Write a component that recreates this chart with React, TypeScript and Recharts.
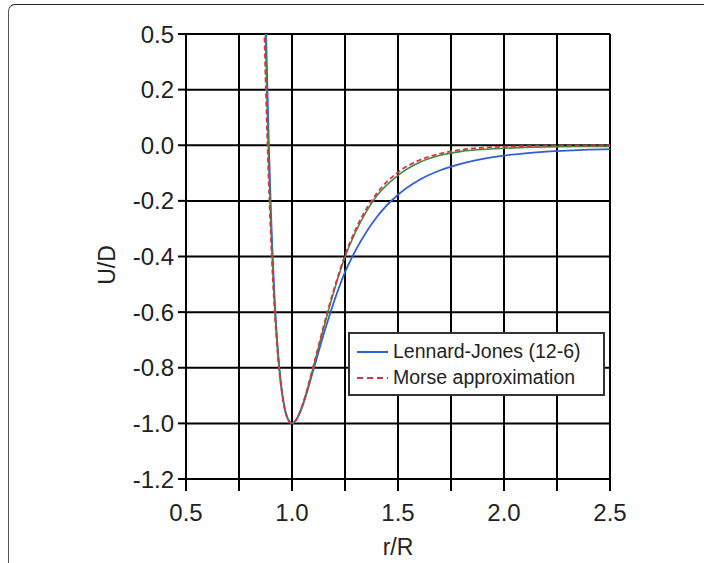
import { LineChart, Line, XAxis, YAxis, CartesianGrid } from "recharts";

const rValues = [
  0.86, 0.87, 0.88, 0.89, 0.9, 0.92, 0.94, 0.96, 0.98, 1.0, 1.02, 1.05, 1.1, 1.15, 1.2,
  1.25, 1.3, 1.4, 1.5, 1.6, 1.7, 1.8, 1.9, 2.0, 2.1, 2.2, 2.3, 2.4, 2.5,
];
const ljValues = [
  1.17, 0.706, 0.33, 0.024, -0.223, -0.579, -0.798, -0.923, -0.983, -1.0, -0.987, -0.936,
  -0.81, -0.678, -0.558, -0.456, -0.378, -0.258, -0.178, -0.125, -0.09, -0.066, -0.049,
  -0.037, -0.029, -0.023, -0.019, -0.016, -0.014,
];
const morseValues = [
  0.733, 0.396, 0.112, -0.126, -0.324, -0.62, -0.812, -0.926, -0.984, -1.0, -0.987, -0.933,
  -0.796, -0.648, -0.512, -0.396, -0.303, -0.173, -0.097, -0.054, -0.03, -0.016, -0.009,
  -0.005, -0.003, -0.002, -0.001, -0.001, 0,
];
const greenValues = [
  0.95, 0.55, 0.22, -0.05, -0.27, -0.6, -0.805, -0.925, -0.984, -1.0, -0.987, -0.934,
  -0.8, -0.655, -0.52, -0.402, -0.312, -0.182, -0.108, -0.062, -0.036, -0.022, -0.015,
  -0.011, -0.008, -0.006, -0.005, -0.004, -0.004,
];

const xTicks = [0.5, 0.75, 1.0, 1.25, 1.5, 1.75, 2.0, 2.25, 2.5];
const yTicks = [-1.2, -1.0, -0.8, -0.6, -0.4, -0.2, 0.0, 0.2, 0.4];
// top gridline is labelled 0.5 in the original figure
const yLabels = ["-1.2", "-1.0", "-0.8", "-0.6", "-0.4", "-0.2", "0.0", "0.2", "0.5"];

const data = rValues.map((r, i) => ({
  r,
  lj: ljValues[i],
  morse: morseValues[i],
  green: greenValues[i],
}));

const FONT = "'Liberation Sans', Arial, sans-serif";
const BLUE = "#2f5fd8";
const RED = "#dc3048";

export default function App() {
  return (
    <div
      style={{
        position: "absolute",
        left: 0,
        top: 0,
        width: 704,
        height: 563,
        overflow: "hidden",
        background: "#fff",
        fontFamily: FONT,
      }}
    >
      <div
        style={{
          position: "absolute",
          left: 8,
          top: 4,
          width: 800,
          height: 700,
          borderTop: "1.5px solid #222",
          borderLeft: "1.5px solid #555",
          borderTopLeftRadius: 7,
        }}
      />
      <div style={{ position: "absolute", left: 0, top: 0 }}>
        <LineChart
          width={704}
          height={563}
          data={data}
          margin={{ top: 34, right: 94, bottom: 0, left: 0 }}
        >
          <CartesianGrid stroke="#000" strokeWidth={2} strokeOpacity={1} />
          <XAxis
            dataKey="r"
            type="number"
            domain={[0.5, 2.5]}
            ticks={xTicks}
            interval={0}
            height={84}
            stroke="#000"
            strokeWidth={2}
            tickSize={12}
            tickMargin={13}
            tick={{ fill: "#222", fontSize: 24, fontFamily: FONT }}
            tickFormatter={(v: number) => (Math.round(v * 100) % 50 === 0 ? v.toFixed(1) : "")}
          />
          <YAxis
            type="number"
            domain={[-1.2, 0.4]}
            allowDataOverflow
            ticks={yTicks}
            interval={0}
            width={186}
            stroke="#000"
            strokeWidth={2}
            tickSize={8}
            tickMargin={4}
            tick={{ fill: "#222", fontSize: 24, fontFamily: FONT }}
            tickFormatter={(v: number) => {
              const idx = yTicks.findIndex((t) => Math.abs(t - v) < 1e-6);
              return idx >= 0 ? yLabels[idx] : v.toFixed(1);
            }}
          />
          <Line
            type="monotone"
            dataKey="lj"
            stroke={BLUE}
            strokeWidth={1.8}
            dot={false}
            isAnimationActive={false}
          />
          <Line
            type="monotone"
            dataKey="green"
            stroke="#3a8f3a"
            strokeWidth={1.6}
            dot={false}
            isAnimationActive={false}
          />
          <Line
            type="monotone"
            dataKey="morse"
            stroke={RED}
            strokeWidth={1.8}
            strokeDasharray="5 3"
            dot={false}
            isAnimationActive={false}
          />
        </LineChart>
      </div>
      <div
        style={{
          position: "absolute",
          left: 107,
          top: 265,
          transform: "translate(-50%, -50%) rotate(-90deg)",
          fontSize: 23,
          color: "#222",
          whiteSpace: "nowrap",
        }}
      >
        U/D
      </div>
      <div
        style={{
          position: "absolute",
          left: 398,
          top: 547,
          transform: "translate(-50%, -50%)",
          fontSize: 23,
          color: "#222",
          whiteSpace: "nowrap",
        }}
      >
        r/R
      </div>
      <div
        style={{
          position: "absolute",
          left: 348,
          top: 332,
          width: 253,
          height: 60,
          border: "2px solid #333",
          background: "#fff",
          fontSize: 19.5,
          lineHeight: "23px",
          color: "#222",
        }}
      >
        <div style={{ position: "absolute", left: 7, top: 6, display: "flex", alignItems: "center" }}>
          <svg width={34} height={12}>
            <line x1={0} y1={6} x2={31} y2={6} stroke={BLUE} strokeWidth={2} />
          </svg>
          <span style={{ marginLeft: 2, whiteSpace: "nowrap" }}>Lennard-Jones (12-6)</span>
        </div>
        <div style={{ position: "absolute", left: 7, top: 32, display: "flex", alignItems: "center" }}>
          <svg width={34} height={12}>
            <line x1={0} y1={6} x2={31} y2={6} stroke={RED} strokeWidth={2} strokeDasharray="6 4" />
          </svg>
          <span style={{ marginLeft: 2, whiteSpace: "nowrap" }}>Morse approximation</span>
        </div>
      </div>
    </div>
  );
}
